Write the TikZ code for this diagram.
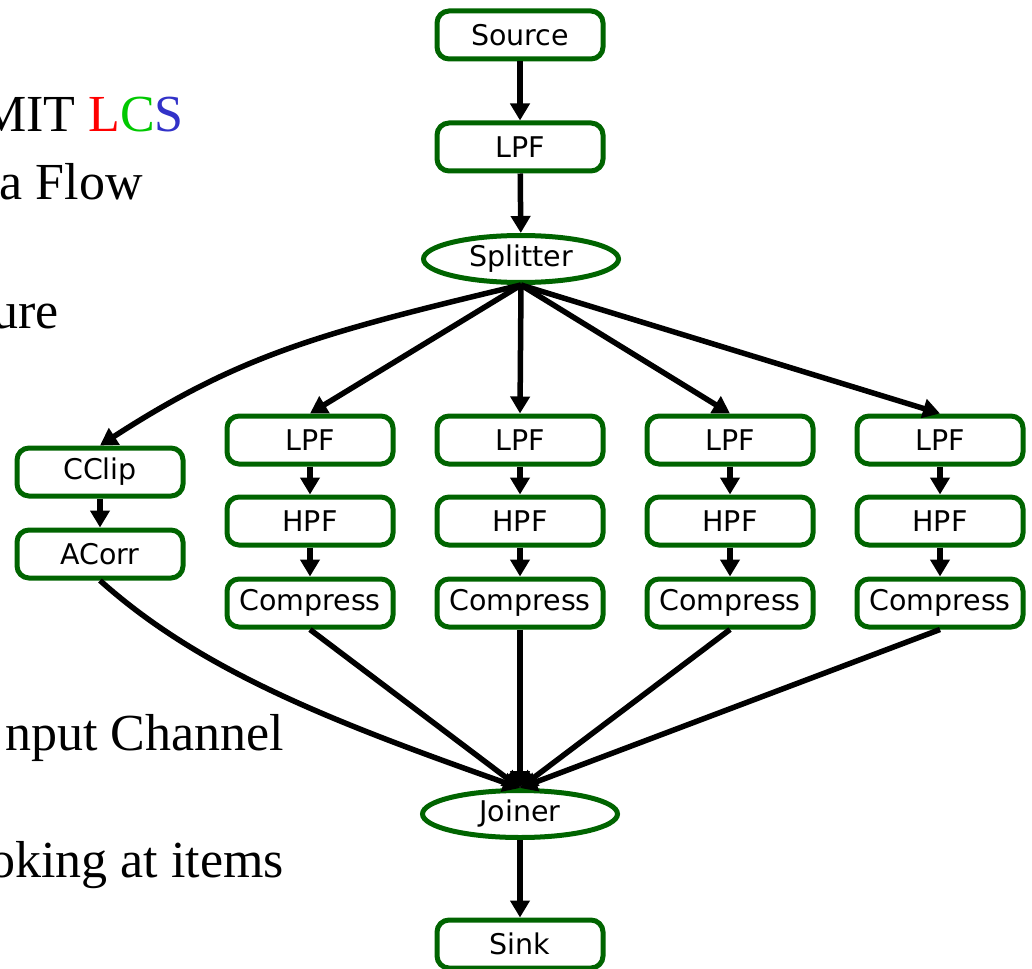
\documentclass[tikz,border=0pt]{standalone}
\usepackage{fontspec}
\setmainfont{Liberation Serif}
\newfontfamily\boxfont{DejaVu Sans}
\usetikzlibrary{shapes.geometric,arrows.meta}
\definecolor{boxgreen}{RGB}{0,100,0}
\definecolor{lcsred}{RGB}{255,0,0}
\definecolor{lcsgreen}{RGB}{0,200,0}
\definecolor{lcsblue}{RGB}{50,50,200}
\begin{document}
\begin{tikzpicture}[x=1pt,y=-1pt,
  block/.style={draw=boxgreen, line width=5pt, rounded corners=12pt,
    minimum width=166pt, minimum height=48pt, inner sep=0pt, fill=white,
    font=\boxfont\fontsize{28.5}{32}\selectfont},
  oval/.style={ellipse, draw=boxgreen, line width=5pt,
    minimum width=195pt, minimum height=47pt, inner sep=0pt, fill=white,
    font=\boxfont\fontsize{28.5}{32}\selectfont},
  flow/.style={line width=5.5pt, -{Triangle[length=17pt,width=19pt]}},
  slide/.style={anchor=base east, inner sep=0pt,
    font=\fontsize{52}{60}\selectfont}]
\useasboundingbox (0,0) rectangle (1032,968);

% slide text behind the diagram
\node[slide] (t1) at (184,132) {MIT \textcolor{lcsred}{L}\textcolor{lcsgreen}{C}\textcolor{lcsblue}{S}};
\node[slide] (t2) at (143,200) {a Flow};
\node[slide] (t3) at (59,328) {ure};
\node[slide] (t4) at (284,750) {nput Channel};
\node[slide] (t5) at (284,877) {oking at items};

% main chain
\node[block] (src) at (520,35) {Source};
\node[block] (lpf) at (520,147) {LPF};
\node[oval]  (spl) at (521,259) {Splitter};

% correlation branch
\node[block] (cclip) at (100,472) {CClip};
\node[block] (acorr) at (100,554) {ACorr};

% four filter branches
\foreach \i/\x in {1/310,2/520,3/730,4/940}{
  \node[block] (l\i) at (\x,440) {LPF};
  \node[block] (h\i) at (\x,521) {HPF};
  \node[block] (c\i) at (\x,603) {Compress};
}

\node[oval]  (jn) at (520,814) {Joiner};
\node[block] (snk) at (520,944) {Sink};

% connectors
\draw[flow] (src) -- (lpf);
\draw[flow] (lpf) -- (spl);
\draw[flow] (spl.south) .. controls (320,333) and (240,355) .. (cclip.north);
\draw[flow] (cclip) -- (acorr);
\foreach \i in {1,2,3,4}{
  \draw[flow] (spl.south) -- (l\i.north);
  \draw[flow] (l\i) -- (h\i);
  \draw[flow] (h\i) -- (c\i);
  \draw[flow] (c\i.south) -- (jn.north);
}
\draw[flow] (acorr.south) .. controls (200,670) and (330,721) .. (jn.north);
\draw[flow] (jn) -- (snk);
\end{tikzpicture}
\end{document}
